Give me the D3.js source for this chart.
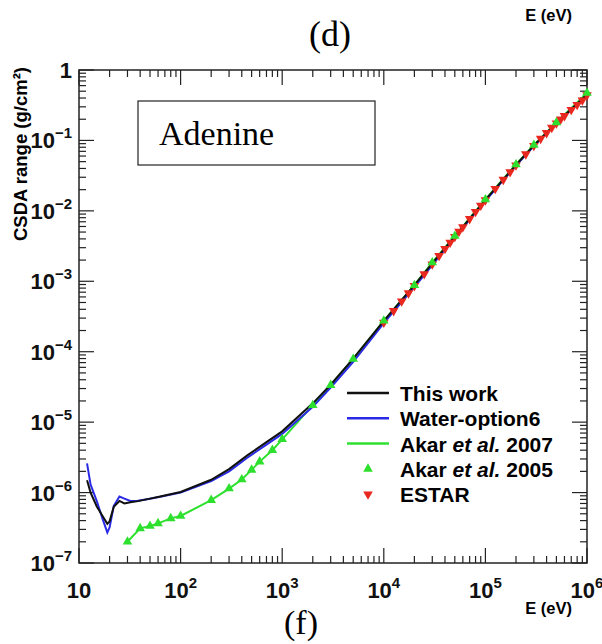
<!DOCTYPE html>
<html>
<head>
<meta charset="utf-8">
<script src="https://cdn.jsdelivr.net/npm/d3@7"></script>
<style>
  body { margin: 0; background: #fff; }
  svg { display: block; }
  .sans { font-family: "Liberation Sans", Arial, sans-serif; font-weight: bold; }
  .serif { font-family: "Liberation Serif", "Times New Roman", serif; }
</style>
</head>
<body>
<script>
// energies in eV, CSDA range in g/cm2
const workE = [12, 13, 15, 17, 19, 20, 22, 25, 28, 32, 37, 50, 63, 100, 200, 300, 450, 700, 1000,
  2000, 3000, 5000, 1e4, 2e4, 3e4, 5e4, 1e5, 2e5, 3e5, 5e5, 1e6];
const workR = [1.5e-6, 1.0e-6, 6.3e-7, 4.7e-7, 3.6e-7, 3.9e-7, 6.3e-7, 7.6e-7, 7.0e-7, 7.3e-7, 7.5e-7,
  8.2e-7, 8.8e-7, 1.02e-6, 1.52e-6, 2.15e-6, 3.35e-6, 5.2e-6, 7.4e-6,
  1.85e-5, 3.4e-5, 8.0e-5, 2.75e-4, 8.8e-4, 1.8e-3, 4.35e-3, 1.43e-2, 4.5e-2, 8.5e-2, 1.77e-1, 4.5e-1];

const waterE = [12, 13, 15, 17, 19, 20, 22, 25, 28, 32, 37, 50, 63, 100, 200, 300, 450, 700, 1000,
  2000, 3000, 5000, 1e4, 2e4, 3e4, 5e4, 1e5, 2e5, 3e5, 5e5, 1e6];
const waterR = [2.6e-6, 1.3e-6, 7.5e-7, 4.3e-7, 2.7e-7, 3.2e-7, 6.5e-7, 8.8e-7, 8.2e-7, 7.6e-7, 7.6e-7,
  8.2e-7, 8.7e-7, 1.0e-6, 1.45e-6, 2.0e-6, 3.1e-6, 4.8e-6, 6.8e-6,
  1.65e-5, 3.1e-5, 7.2e-5, 2.55e-4, 8.3e-4, 1.7e-3, 4.2e-3, 1.39e-2, 4.4e-2, 8.3e-2, 1.74e-1, 4.4e-1];

const akarE = [30, 40, 50, 60, 80, 100, 200, 300, 400, 500, 600, 800, 1000,
  2000, 3000, 5000, 1e4, 2e4, 3e4, 5e4, 1e5, 2e5, 3e5, 5e5, 1e6];
const akarR = [2.0e-7, 3.1e-7, 3.35e-7, 3.65e-7, 4.3e-7, 4.65e-7, 7.8e-7, 1.14e-6, 1.53e-6, 2.1e-6, 2.75e-6, 4.0e-6, 5.7e-6,
  1.74e-5, 3.35e-5, 7.9e-5, 2.75e-4, 8.8e-4, 1.85e-3, 4.4e-3, 1.45e-2, 4.55e-2, 8.6e-2, 1.8e-1, 4.7e-1];

const estarE = [1e4, 1.25e4, 1.5e4, 1.75e4, 2e4, 2.5e4, 3e4, 3.5e4, 4e4, 4.5e4, 5e4, 5.5e4, 6e4, 7e4, 8e4, 9e4,
  1e5, 1.25e5, 1.5e5, 1.75e5, 2e5, 2.5e5, 3e5, 3.5e5, 4e5, 4.5e5, 5e5, 5.5e5, 6e5, 7e5, 8e5, 9e5, 1e6];
const estarR = [2.6e-4, 3.8e-4, 5.2e-4, 6.8e-4, 8.6e-4, 1.27e-3, 1.75e-3, 2.3e-3, 2.9e-3, 3.55e-3, 4.3e-3, 5.1e-3, 5.9e-3,
  7.7e-3, 9.7e-3, 1.19e-2, 1.42e-2, 2.06e-2, 2.78e-2, 3.57e-2, 4.45e-2, 6.4e-2, 8.4e-2, 1.06e-1, 1.28e-1, 1.52e-1,
  1.75e-1, 1.99e-1, 2.23e-1, 2.72e-1, 3.22e-1, 3.73e-1, 4.4e-1];

const xTicks = [10, 1e2, 1e3, 1e4, 1e5, 1e6];
const xTickExp = ["", "2", "3", "4", "5", "6"];
const yTicks = [1, 1e-1, 1e-2, 1e-3, 1e-4, 1e-5, 1e-6, 1e-7];
const yTickExp = ["", "\u22121", "\u22122", "\u22123", "\u22124", "\u22125", "\u22126", "\u22127"];

const legendItems = [
  { label: ["This work"], color: "#111", type: "line" },
  { label: ["Water-option6"], color: "#2a2ae6", type: "line" },
  { label: ["Akar ", "et al.", " 2007"], color: "#2ee02e", type: "line" },
  { label: ["Akar ", "et al.", " 2005"], color: "#2ee02e", type: "up" },
  { label: ["ESTAR"], color: "#e8281e", type: "down" }
];

const W = 602, H = 644;
const margin = { left: 79, right: 15, top: 70, bottom: 81 };
const innerW = W - margin.left - margin.right;
const innerH = H - margin.top - margin.bottom;

const svg = d3.select("body").append("svg").attr("width", W).attr("height", H);

const x = d3.scaleLog().domain([10, 1e6]).range([margin.left, margin.left + innerW]);
const y = d3.scaleLog().domain([1e-7, 1]).range([margin.top + innerH, margin.top]);

// ticks (ROOT style, inside on all four sides)
const minor = [];
for (let d = 1; d < 6; d++) for (let m = 2; m <= 9; m++) minor.push(m * Math.pow(10, d));
const minorY = [];
for (let d = -7; d < 0; d++) for (let m = 2; m <= 9; m++) minorY.push(m * Math.pow(10, d));

const tk = svg.append("g").attr("stroke", "#222").attr("stroke-width", 1.2);
const x0 = margin.left, x1 = margin.left + innerW, y0 = margin.top + innerH, y1 = margin.top;
xTicks.forEach(v => {
  tk.append("line").attr("x1", x(v)).attr("x2", x(v)).attr("y1", y0).attr("y2", y0 - 15);
  tk.append("line").attr("x1", x(v)).attr("x2", x(v)).attr("y1", y1).attr("y2", y1 + 15);
});
minor.forEach(v => {
  tk.append("line").attr("x1", x(v)).attr("x2", x(v)).attr("y1", y0).attr("y2", y0 - 7);
  tk.append("line").attr("x1", x(v)).attr("x2", x(v)).attr("y1", y1).attr("y2", y1 + 7);
});
yTicks.forEach(v => {
  tk.append("line").attr("x1", x0).attr("x2", x0 + 15).attr("y1", y(v)).attr("y2", y(v));
  tk.append("line").attr("x1", x1).attr("x2", x1 - 15).attr("y1", y(v)).attr("y2", y(v));
});
minorY.forEach(v => {
  tk.append("line").attr("x1", x0).attr("x2", x0 + 7).attr("y1", y(v)).attr("y2", y(v));
  tk.append("line").attr("x1", x1).attr("x2", x1 - 7).attr("y1", y(v)).attr("y2", y(v));
});

svg.append("rect").attr("x", x0).attr("y", y1).attr("width", innerW).attr("height", innerH)
  .attr("fill", "none").attr("stroke", "#222").attr("stroke-width", 1.5);

// tick labels
const xl = svg.append("g").attr("class", "sans").attr("font-size", 22).attr("fill", "#111");
xTicks.forEach((v, i) => {
  const t = xl.append("text").attr("x", x(v)).attr("y", y0 + 35).attr("text-anchor", "middle");
  t.append("tspan").text("10");
  if (xTickExp[i]) t.append("tspan").attr("dy", -10).attr("font-size", 15).text(xTickExp[i]);
});
const yl = svg.append("g").attr("class", "sans").attr("font-size", 22).attr("fill", "#111");
yTicks.forEach((v, i) => {
  const t = yl.append("text").attr("x", x0 - 7).attr("y", y(v) + 8).attr("text-anchor", "end");
  t.append("tspan").text(i === 0 ? "1" : "10");
  if (yTickExp[i]) t.append("tspan").attr("dy", -10).attr("font-size", 15).text(yTickExp[i]);
});

// axis titles
svg.append("text").attr("class", "sans").attr("font-size", 18.5)
  .attr("transform", `translate(27,${y1 - 3}) rotate(-90)`).attr("text-anchor", "end")
  .text("CSDA range (g/cm\u00b2)");
svg.append("text").attr("class", "sans").attr("font-size", 16.5).attr("x", 572).attr("y", 21)
  .attr("text-anchor", "end").text("E (eV)");
svg.append("text").attr("class", "sans").attr("font-size", 16.5).attr("x", 572).attr("y", 614)
  .attr("text-anchor", "end").text("E (eV)");
svg.append("text").attr("class", "serif").attr("font-size", 36).attr("x", 330).attr("y", 46)
  .attr("text-anchor", "middle").text("(d)");
svg.append("text").attr("class", "serif").attr("font-size", 34).attr("x", 301).attr("y", 634)
  .attr("text-anchor", "middle").text("(f)");

// label box
svg.append("rect").attr("x", 138).attr("y", 101).attr("width", 237).attr("height", 64)
  .attr("fill", "#fff").attr("stroke", "#222").attr("stroke-width", 1.2);
svg.append("text").attr("class", "serif").attr("font-size", 34).attr("x", 159).attr("y", 145)
  .text("Adenine");

// curves
const line = d3.line().x(d => x(d[0])).y(d => y(d[1]));
const plot = svg.append("g");
const akar = d3.zip(akarE, akarR);
plot.append("path").datum(akar).attr("d", line).attr("fill", "none")
  .attr("stroke", "#2ee02e").attr("stroke-width", 2);
plot.append("path").datum(d3.zip(waterE, waterR)).attr("d", line).attr("fill", "none")
  .attr("stroke", "#2a2ae6").attr("stroke-width", 2);
plot.append("path").datum(d3.zip(workE, workR)).attr("d", line).attr("fill", "none")
  .attr("stroke", "#111").attr("stroke-width", 2);

const tri = d3.symbol().type(d3.symbolTriangle).size(40);
plot.selectAll(".est").data(d3.zip(estarE, estarR)).enter().append("path")
  .attr("d", tri).attr("fill", "#e8281e")
  .attr("transform", d => `translate(${x(d[0])},${y(d[1])}) rotate(180)`);
plot.selectAll(".ak").data(akar).enter().append("path")
  .attr("d", tri).attr("fill", "#2ee02e")
  .attr("transform", d => `translate(${x(d[0])},${y(d[1])})`);

// legend
const lg = svg.append("g");
legendItems.forEach((it, i) => {
  const ly = 393 + i * 25.3;
  if (it.type === "line") {
    lg.append("line").attr("x1", 347).attr("x2", 389).attr("y1", ly).attr("y2", ly)
      .attr("stroke", it.color).attr("stroke-width", 2.5);
  } else {
    lg.append("path").attr("d", tri).attr("fill", it.color)
      .attr("transform", `translate(368,${ly})` + (it.type === "down" ? " rotate(180)" : ""));
  }
  const t = lg.append("text").attr("class", "sans").attr("font-size", 21).attr("x", 400).attr("y", ly + 8);
  it.label.forEach((s, j) => {
    const sp = t.append("tspan").text(s);
    if (j === 1) sp.attr("font-style", "italic");
  });
});
</script>
</body>
</html>
